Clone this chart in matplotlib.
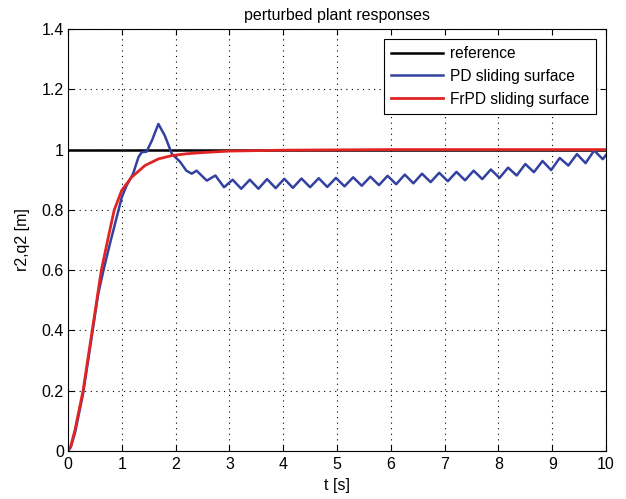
import matplotlib
matplotlib.use("Agg")
import matplotlib.pyplot as plt

plt.rcParams['font.family'] = ['Liberation Sans', 'DejaVu Sans']

# reference
ref_t = [0, 10]
ref_y = [1, 1]

# FrPD sliding surface
frpd_t = [0, 0.05, 0.13, 0.28, 0.45, 0.62, 0.75, 0.86, 1.0, 1.18, 1.43, 1.68, 1.93,
          2.2, 2.5, 3.0, 4.0, 5.0, 6.0, 7.0, 8.0, 9.0, 10.0]
frpd_y = [0, 0.015, 0.07, 0.2, 0.4, 0.6, 0.71, 0.8, 0.865, 0.908, 0.947, 0.969, 0.98,
          0.986, 0.99, 0.995, 0.998, 0.999, 1.0, 1.0, 1.0, 1.0, 1.0]

# PD sliding surface: rise and overshoot
pd_rise_t = [0, 0.05, 0.13, 0.28, 0.45, 0.56, 0.66, 0.78, 0.94, 1.0, 1.09, 1.21, 1.31,
             1.37, 1.46, 1.56, 1.68, 1.80, 1.93, 2.08, 2.2, 2.3, 2.39]
pd_rise_y = [0, 0.012, 0.06, 0.19, 0.39, 0.52, 0.6, 0.688, 0.8, 0.842, 0.881, 0.92, 0.975,
             0.991, 0.993, 1.03, 1.085, 1.046, 0.986, 0.96, 0.93, 0.92, 0.93]
# PD sliding surface: oscillation troughs and peaks
pd_trough_t = [2.58, 2.90, 3.22, 3.54, 3.86, 4.18, 4.50, 4.82, 5.14, 5.46, 5.78, 6.10,
               6.42, 6.74, 7.06, 7.38, 7.70, 8.02, 8.34, 8.66, 8.98, 9.30, 9.62, 9.94]
pd_trough_y = [0.897, 0.875, 0.870, 0.870, 0.872, 0.873, 0.875, 0.876, 0.878, 0.880, 0.882, 0.885,
               0.888, 0.892, 0.895, 0.898, 0.902, 0.906, 0.914, 0.925, 0.932, 0.947, 0.955, 0.968]
pd_peak_t = [2.74, 3.06, 3.38, 3.70, 4.02, 4.34, 4.66, 4.98, 5.30, 5.62, 5.94, 6.26,
             6.58, 6.90, 7.22, 7.54, 7.86, 8.18, 8.50, 8.82, 9.14, 9.46, 9.78, 10.0]
pd_peak_y = [0.914, 0.900, 0.900, 0.902, 0.903, 0.904, 0.905, 0.906, 0.908, 0.910, 0.913, 0.917,
             0.920, 0.923, 0.926, 0.930, 0.934, 0.940, 0.952, 0.962, 0.972, 0.985, 0.997, 0.982]

osc = sorted(list(zip(pd_trough_t, pd_trough_y)) + list(zip(pd_peak_t, pd_peak_y)))
pd_t = pd_rise_t + [p[0] for p in osc]
pd_y = pd_rise_y + [p[1] for p in osc]

x_ticks = [0, 1, 2, 3, 4, 5, 6, 7, 8, 9, 10]
y_ticks = [0, 0.2, 0.4, 0.6, 0.8, 1.0, 1.2, 1.4]
y_tick_labels = ['0', '0.2', '0.4', '0.6', '0.8', '1', '1.2', '1.4']

fs = 11.5

fig = plt.figure(figsize=(6.26, 4.99), dpi=100)
ax = fig.add_axes([68/626, 1-451/499, (606-68)/626, (451-29)/499])

ax.plot(ref_t, ref_y, color='black', lw=1.8, label='reference')
ax.plot(pd_t, pd_y, color='#3342a0', lw=1.8, label='PD sliding surface',
        solid_joinstyle='round')
ax.plot(frpd_t, frpd_y, color='#e02424', lw=2.0, label='FrPD sliding surface')

ax.set_xlim(0, 10)
ax.set_ylim(0, 1.4)
ax.set_xticks(x_ticks)
ax.set_xticklabels([str(v) for v in x_ticks])
ax.set_yticks(y_ticks)
ax.set_yticklabels(y_tick_labels)
ax.tick_params(direction='in', top=True, right=True, labelsize=fs, length=4, width=0.8)
ax.tick_params(axis='x', pad=4.5)
ax.tick_params(axis='y', pad=3)
ax.grid(True, color='black', linestyle=(0, (1, 4)), linewidth=0.8)
for s in ax.spines.values():
    s.set_linewidth(0.8)

ax.set_title('perturbed plant responses', fontsize=fs, pad=6.5)
ax.set_xlabel('t [s]', fontsize=fs, labelpad=4)
ax.set_ylabel('r2,q2 [m]', fontsize=fs, labelpad=8)

leg = ax.legend(loc='upper right', fontsize=11.2, fancybox=False, framealpha=1,
                edgecolor='black', borderaxespad=0.65, handlelength=3.3,
                handletextpad=0.45, labelspacing=0.5, borderpad=0.45)
leg.get_frame().set_linewidth(0.8)

fig.savefig('out.png', dpi=100)
